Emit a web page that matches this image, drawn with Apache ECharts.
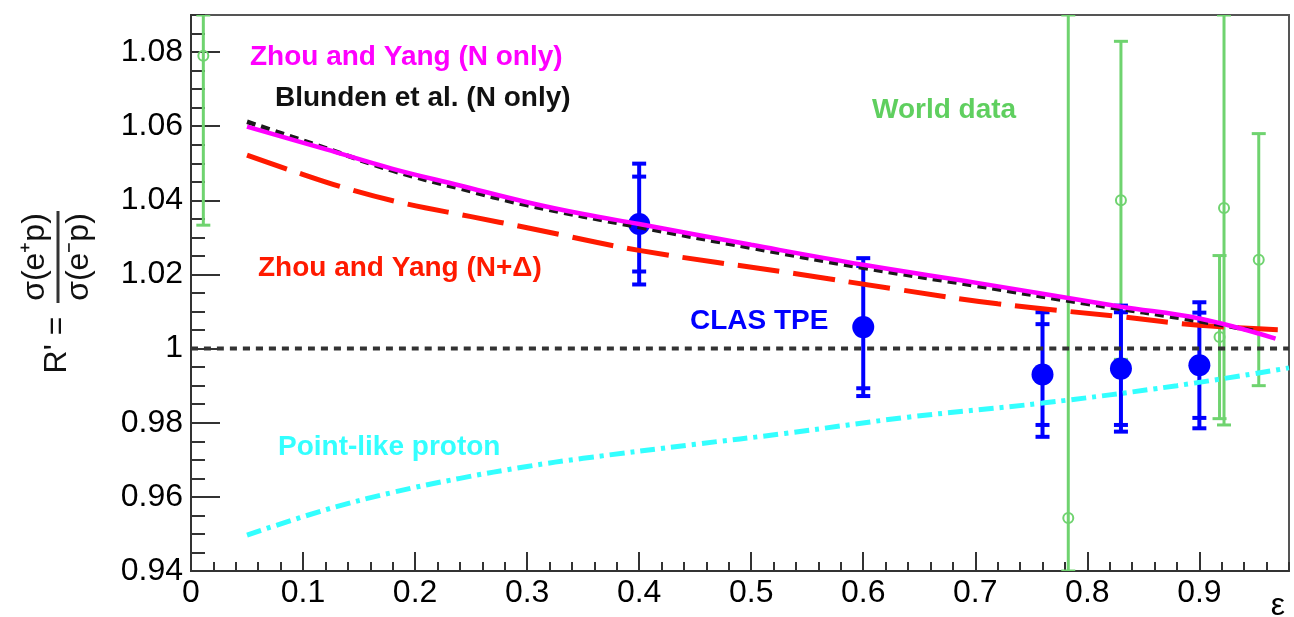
<!DOCTYPE html>
<html>
<head>
<meta charset="utf-8">
<style>html,body{margin:0;padding:0;background:#fff}#main{width:1294px;height:617px}</style>
<script src="https://cdn.jsdelivr.net/npm/echarts@6.0.0/dist/echarts.min.js"></script>
</head>
<body>
<div id="main"></div>
<script>
var FONT = "'Liberation Sans', Arial, Helvetica, sans-serif";

// axis ranges
var epsMin = 0, epsMax = 0.98;
var rMin = 0.94, rMax = 1.09;

// theory curves, [epsilon, R']
var zhouYangN = [[0.05,1.0599],[0.12,1.0538],[0.18,1.0485],[0.24,1.0440],[0.30,1.0395],[0.35,1.0363],
    [0.40,1.0336],[0.50,1.0280],[0.60,1.0226],[0.70,1.0178],[0.76,1.0148],[0.83,1.0113],[0.90,1.0081],[0.968,1.0027]];
var blundenN = [[0.05,1.0612],[0.12,1.0541],[0.18,1.0480],[0.24,1.0432],[0.30,1.0387],[0.40,1.0328],
    [0.50,1.0272],[0.60,1.0218],[0.70,1.0170],[0.80,1.0121],[0.90,1.0074],[0.95,1.0047]];
var zhouYangND = [[0.05,1.0522],[0.09,1.0480],[0.14,1.0431],[0.19,1.0392],[0.25,1.0356],[0.30,1.0326],
    [0.40,1.0265],[0.54,1.0202],[0.63,1.0160],[0.72,1.0121],[0.83,1.0086],[0.90,1.0063],[0.97,1.0051]];
var pointLike = [[0.05,0.9497],[0.12,0.9565],[0.18,0.9612],[0.24,0.9650],[0.30,0.9682],[0.35,0.9704],
    [0.45,0.9742],[0.53,0.9771],[0.64,0.9815],[0.76,0.9853],[0.88,0.9900],[0.98,0.9948]];
var unity = [[0,1],[0.98,1]];

// CLAS TPE points
var clasEps  = [0.40, 0.60, 0.76, 0.83, 0.90];
var clasR    = [1.0336, 1.0058, 0.9930, 0.9946, 0.9955];
var clasStat = [0.0128, 0.0165, 0.0136, 0.0152, 0.0142];
var clasTot  = [0.0163, 0.0186, 0.0168, 0.0170, 0.0170];

// world data points
var worldEps = [0.011, 0.783, 0.830, 0.918, 0.922, 0.953];
var worldR   = [1.0790, 0.9543, 1.0400, 1.0031, 1.0379, 1.0240];
var worldErr = [0.0457, 0.1600, 0.0429, 0.0220, 0.0585, 0.0340];

var BLUE = '#0000ff', GREEN = '#6fd36f';

function clasItem(params, api) {
    var x = api.value(0), y = api.value(1), st = api.value(2), tot = api.value(3);
    var c = api.coord([x, y]);
    var ends = [y + tot, y - tot, y + st, y - st].map(function (v) { return api.coord([x, v])[1]; });
    var kids = [{type: 'line', shape: {x1: c[0], y1: ends[0], x2: c[0], y2: ends[1]}, style: {stroke: BLUE, lineWidth: 4}}];
    ends.forEach(function (py) {
        kids.push({type: 'line', shape: {x1: c[0] - 7, y1: py, x2: c[0] + 7, y2: py}, style: {stroke: BLUE, lineWidth: 4}});
    });
    kids.push({type: 'circle', shape: {cx: c[0], cy: c[1], r: 11}, style: {fill: BLUE}});
    return {type: 'group', children: kids};
}

function worldItem(params, api) {
    var x = api.value(0), y = api.value(1), e = api.value(2);
    var hi = api.coord([x, Math.min(y + e, rMax)])[1];
    var lo = api.coord([x, Math.max(y - e, rMin)])[1];
    var c = api.coord([x, y]);
    return {type: 'group', children: [
        {type: 'line', shape: {x1: c[0], y1: hi, x2: c[0], y2: lo}, style: {stroke: GREEN, lineWidth: 3}},
        {type: 'line', shape: {x1: c[0] - 7, y1: hi, x2: c[0] + 7, y2: hi}, style: {stroke: GREEN, lineWidth: 3}},
        {type: 'line', shape: {x1: c[0] - 7, y1: lo, x2: c[0] + 7, y2: lo}, style: {stroke: GREEN, lineWidth: 3}},
        {type: 'circle', shape: {cx: c[0], cy: c[1], r: 5}, style: {fill: 'none', stroke: GREEN, lineWidth: 2}}
    ]};
}

function curve(name, data, color, width, dash) {
    return {name: name, type: 'line', data: data, smooth: 0.4, showSymbol: false, silent: true,
        lineStyle: {color: color, width: width, type: dash}};
}

function label(text, x, y, color) {
    return {type: 'text', x: x, y: y, style: {text: text, fill: color, fontSize: 28, fontWeight: 'bold',
        fontFamily: FONT, verticalAlign: 'middle'}};
}

function ttl(text, x, y) {
    return {type: 'text', x: x, y: y, style: {text: text, fill: '#111', fontSize: 32, fontFamily: FONT,
        align: 'center', verticalAlign: 'middle'}};
}

var tickStyle = {color: '#333', width: 2};

var option = {
    animation: false,
    grid: {left: 191, right: 5, top: 15, bottom: 46, show: true, borderColor: '#555', borderWidth: 2},
    xAxis: [
        {type: 'value', min: epsMin, max: epsMax, interval: 0.1, position: 'bottom',
            axisLine: {show: true, onZero: false, lineStyle: tickStyle},
            axisTick: {inside: true, length: 19, lineStyle: tickStyle},
            axisLabel: {showMaxLabel: false, margin: 6, fontSize: 32, color: '#000', fontFamily: FONT},
            splitLine: {show: false}},
        {type: 'value', min: epsMin, max: epsMax, interval: 0.02, position: 'bottom',
            axisLine: {show: false, onZero: false},
            axisTick: {inside: true, length: 9, lineStyle: tickStyle},
            axisLabel: {show: false}, splitLine: {show: false}}
    ],
    yAxis: [
        {type: 'value', min: rMin, max: rMax, interval: 0.02, position: 'left',
            axisLine: {show: true, onZero: false, lineStyle: tickStyle},
            axisTick: {inside: true, length: 29, lineStyle: tickStyle},
            axisLabel: {showMaxLabel: false, margin: 8, fontSize: 32, color: '#000', fontFamily: FONT},
            splitLine: {show: false}},
        {type: 'value', min: rMin, max: rMax, interval: 0.005, position: 'left',
            axisLine: {show: false, onZero: false},
            axisTick: {inside: true, length: 14, lineStyle: tickStyle},
            axisLabel: {show: false}, splitLine: {show: false}}
    ],
    series: [
        curve('unity', unity, '#333', 4, [7, 6]),
        curve('Point-like proton', pointLike, '#33ffff', 5, [15, 6, 4, 6]),
        curve('Zhou and Yang (N+Δ)', zhouYangND, '#ff1a00', 5, [42, 14]),
        curve('Blunden et al. (N only)', blundenN, '#1a1a1a', 4.5, [9, 6]),
        curve('Zhou and Yang (N only)', zhouYangN, '#ff00ff', 4.5, 'solid'),
        {name: 'World data', type: 'custom', clip: true, renderItem: worldItem, encode: {x: 0, y: 1},
            data: worldEps.map(function (e, i) { return [e, worldR[i], worldErr[i]]; })},
        {name: 'CLAS TPE', type: 'custom', clip: true, renderItem: clasItem, encode: {x: 0, y: 1},
            data: clasEps.map(function (e, i) { return [e, clasR[i], clasStat[i], clasTot[i]]; })}
    ],
    graphic: [
        label('Zhou and Yang (N only)', 250, 57, '#ff00ff'),
        label('Blunden et al. (N only)', 275, 98, '#111'),
        label('World data', 872, 110, '#5fcf5f'),
        label('Zhou and Yang (N+Δ)', 258, 268, '#ff1a00'),
        label('CLAS TPE', 690, 321, BLUE),
        label('Point-like proton', 278, 447, '#33ffff'),
        {type: 'text', x: 1278, y: 606, style: {text: 'ε', fill: '#000', fontSize: 32, fontFamily: FONT,
            align: 'center', verticalAlign: 'middle'}},
        {type: 'group', x: 58, y: 300, rotation: Math.PI / 2, children: [
            {type: 'line', shape: {x1: -3, y1: 0, x2: 89, y2: 0}, style: {stroke: '#333', lineWidth: 3}},
            ttl('σ(e⁺p)', 43, -23),
            ttl('σ(e⁻p)', 43, 21),
            ttl("R' =", -45, -1)
        ]}
    ]
};

var myChart = echarts.init(document.getElementById('main'));
myChart.setOption(option);
</script>
</body>
</html>
